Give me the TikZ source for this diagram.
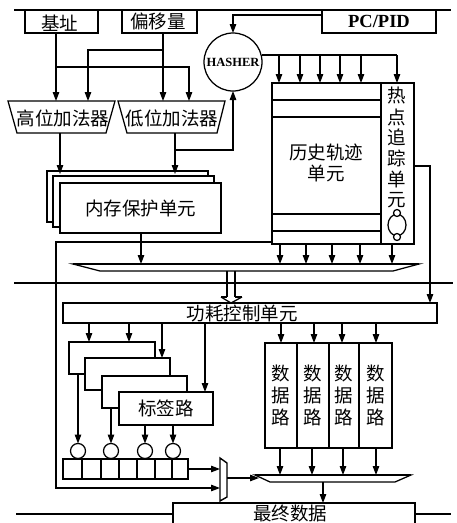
\documentclass[tikz,border=0pt]{standalone}
\usepackage{fontspec}
\setmainfont{Liberation Serif}
\newfontfamily\cjk{Noto Sans CJK SC}
\usetikzlibrary{arrows.meta}
\tikzset{
 x=1pt,y=-1pt,
 base/.style={line width=1.25pt,draw=black,line join=miter},
 conn/.style={base,-{Triangle[length=9pt,width=6.5pt]}},
 plain/.style={base},
 box/.style={base,fill=white},
 ghost/.style={},
 thickbus/.style={line width=2pt,draw=black},
 lab/.style={font=\cjk\fontsize{18.5}{21}\selectfont,align=center},
 every node/.style={inner sep=0pt,outer sep=0pt},
}
% \nda[style]{x1}{y1}{x2}{y2}{name}{text}
\newcommand{\nda}[7][box]{\node[#1,lab,minimum width=#4-#2,minimum height=#5-#3,anchor=north west] (#6) at (#2,#3) {#7};}
\begin{document}
\begin{tikzpicture}
\useasboundingbox (0,0) rectangle (456,523);
% horizontal rules
\coordinate (r1a) at (14,10); \coordinate (r1b) at (451,10);
\draw[plain] (r1a)--(r1b);
\coordinate (r2a) at (14,283); \coordinate (r2b) at (453,283);
\draw[plain] (r2a)--(r2b);
% top boxes
\nda{25}{10}{98}{33}{jz}{}
\node[lab] (jzt) at (60,23) {基址};
\nda{122}{10}{197}{33}{py}{}
\node[lab] (pyt) at (158,21) {偏移量};
\node[box,minimum width=114,minimum height=23,anchor=north west,font=\bfseries\fontsize{18.5}{20}\selectfont] (pc) at (322,10) {PC/PID};
% adders
\nda[ghost]{8}{101}{115}{133}{ga}{}
\nda[ghost]{118}{101}{225}{133}{da}{}
\draw[box] (8,101)--(115,101)--(106,133)--(17,133)--cycle;
\draw[box] (118,101)--(225,101)--(217,133)--(127,133)--cycle;
\node[lab] at (63,118) {高位加法器};
\node[lab] at (172,118) {低位加法器};
% hasher
\node[box,circle,minimum size=58,font=\bfseries\fontsize{12.5}{14}\selectfont] (hs) at (233,62) {HASHER};
% history table
\nda{272}{83}{381}{244}{ls}{}
\nda{381}{83}{414}{244}{rd}{}
\foreach \y/\n in {100/a,117/b,214/c,231/d}{
  \coordinate (l\n) at (272,\y); \coordinate (m\n) at (381,\y);
  \draw[plain] (l\n)--(m\n);
}
\node[lab,align=center,text width=90] (lst) at (326,163) {历史轨迹\\单元};
\foreach \y/\t in {95/热,117/点,137/追,158/踪,179/单,200/元}{\node[lab] at (397,\y) {\t};}
\node[base,circle,fill=white,minimum size=18,yscale=1.2] (hot) at (397,225) {};
\node[box,circle,minimum size=7] (hota) at (397,213) {};
\node[box,circle,minimum size=7] (hotb) at (397,237) {};
% memory protection
\nda{47}{171}{208}{222}{mpc}{}
\nda{53}{176}{214}{227}{mpb}{}
\nda{60}{183}{221}{233}{mpa}{内存保护单元}
% main bus
\nda[ghost]{73}{264}{419}{271}{bus}{}
\draw[plain,fill=white] (73,264)--(419,264)--(393,271)--(100,271)--cycle;
\draw[thickbus] (73,264)--(419,264);
% power control
\nda{63}{303}{437}{323}{pw}{}
\node[lab] at (242,313) {功耗控制单元};
% tag ways
\nda{69}{342}{155}{374}{tga}{}
\nda{85}{358}{170}{390}{tgb}{}
\nda{102}{376}{187}{408}{tgc}{}
\nda{119}{392}{213}{425}{tgd}{标签路}
% comparators
\foreach \n/\x in {ca/78,cb/111,cc/145,cd/173}{\node[box,circle,minimum size=15] (\n) at (\x,451) {};}
% register
\nda{63}{459}{188}{479}{reg}{}
\foreach \x in {82,101,119,137,155,172}{
  \draw[plain] (\x,0 |- reg.north) -- (\x,0 |- reg.south);
}
% mux
\nda[ghost]{220}{459}{227}{501}{mx}{}
\draw[base,line width=1.4pt,fill=white] (220,458)--(227,463)--(227,497)--(220,501)--cycle;
% data ways
\nda{265}{343}{297}{448}{dwa}{数\\[1pt]据\\[1pt]路}
\nda{297}{343}{329}{448}{dwb}{数\\[1pt]据\\[1pt]路}
\nda{329}{343}{359}{448}{dwc}{数\\[1pt]据\\[1pt]路}
\nda{359}{343}{392}{448}{dwd}{数\\[1pt]据\\[1pt]路}
% small bus
\nda[ghost]{255}{475}{411}{482}{sb}{}
\draw[plain,fill=white] (255,475)--(411,475)--(395,482)--(270,482)--cycle;
\draw[base,line width=1.7pt] (255,475)--(411,475);
% final data
\nda[ghost]{173}{503}{415}{523}{fd}{}
\draw[plain] (fd.south west)--(fd.north west)--(fd.north east)--(fd.south east);
\node[lab] at (290,513) {最终数据};
\coordinate (r3a) at (16,514); \coordinate (r3b) at (451,514);
\draw[plain] (r3a)--(r3a -| fd.west);
\draw[plain] (r3a -| fd.east)--(r3b);
% connectors: top
\draw[conn] (56,0 |- jz.south) -- (56,0 |- ga.north);
\draw[conn] (56,67) -- (189,67) -- (189,0 |- da.north);
\draw[conn] (163,0 |- py.south) -- (163,0 |- da.north);
\draw[conn] (163,50) -- (88,50) -- (88,0 |- ga.north);
% adders to memory
\draw[conn] (60,133) -- (60,174);
\draw[conn] (175,133) -- (175,174);
\draw[conn] (175,150) -| (hs.south);
% pc to hasher
\draw[conn] (pc.west |- 0,15) -| (hs.north);
% hasher to history
\draw[plain] (hs.east |- 0,55) -- (397,55);
\foreach \x in {279,300,320,340,361}{\draw[conn] (\x,55) -- (\x,0 |- ls.north);}
\draw[conn] (397,55) -- (397,0 |- rd.north);
% hot tracker to power
\draw[conn] (rd.east |- 0,166) -- (430,166) -- (430,0 |- pw.north);
% memory to bus
\draw[conn] (141,0 |- mpa.south) -- (141,0 |- bus.north);
% history to bus
\foreach \x in {280,306,332,360,392}{\draw[conn] (\x,0 |- ls.south) -- (\x,0 |- bus.north);}
% feedback
\draw[conn] (ls.west |- 0,242) -- (56,242) -- (56,488) -- (mx.west |- 0,488);
% double arrow
\draw[plain] (227,0 |- bus.south) -- (227,297);
\draw[plain] (235,0 |- bus.south) -- (235,297);
\draw[plain] (221,297) -- (227,297);
\draw[plain] (235,297) -- (242,297);
\draw[plain] (221,297) -- (231,0 |- pw.north) -- (242,297);
% power to tags
\draw[conn] (89,0 |- pw.south) -- (89,0 |- tga.north);
\draw[conn] (129,0 |- pw.south) -- (129,0 |- tga.north);
\draw[conn] (162,0 |- pw.south) -- (162,0 |- tgb.north);
\draw[conn] (205,0 |- pw.south) -- (205,0 |- tgd.north);
% power to data
\draw[conn] (281,0 |- pw.south) -- (281,0 |- dwa.north);
\draw[conn] (314,0 |- pw.south) -- (314,0 |- dwb.north);
\draw[conn] (342,0 |- pw.south) -- (342,0 |- dwc.north);
\draw[conn] (376,0 |- pw.south) -- (376,0 |- dwd.north);
% tags to comparators
\draw[conn] (ca |- tga.south) -- (ca.north);
\draw[conn] (cb |- tgc.south) -- (cb.north);
\draw[conn] (cc |- tgd.south) -- (cc.north);
\draw[conn] (cd |- tgd.south) -- (cd.north);
% register to mux
\draw[conn] (reg.east |- 0,469) -- (mx.west |- 0,469);
% mux to small bus
\draw[conn] (mx.east |- 0,478) -- (259,478);
% data to small bus
\foreach \a/\x in {dwa/280,dwb/312,dwc/343,dwd/376}{\draw[conn] (\x,0 |- \a.south) -- (\x,0 |- sb.north);}
% small bus to final
\draw[conn] (323,0 |- sb.south) -- (323,0 |- fd.north);
\end{tikzpicture}
\end{document}
